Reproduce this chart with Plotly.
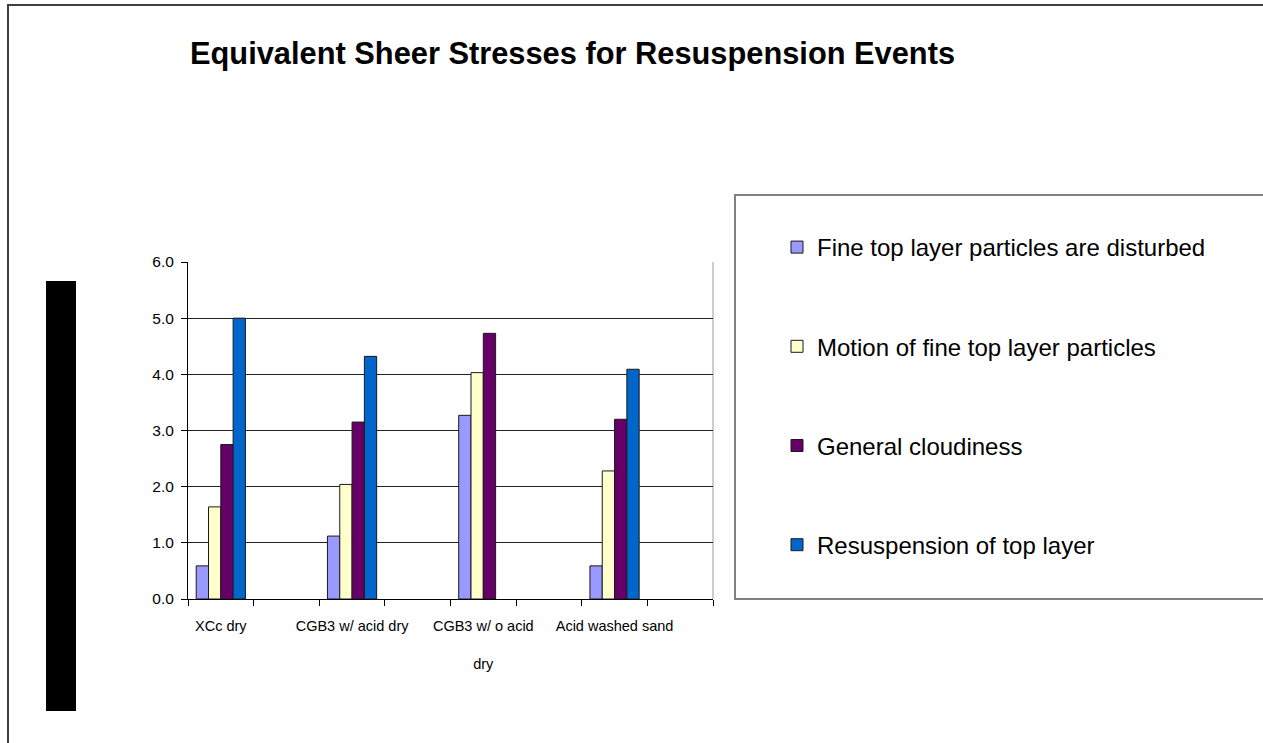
import plotly.graph_objects as go

# Eight category slots on the axis; only every other one is labelled and holds data
categories = [
    "XCc dry", " ",
    "CGB3 w/ acid dry", "  ",
    "CGB3 w/ o acid<br><br>dry", "   ",
    "Acid washed sand", "    ",
]

series_names = [
    "Fine top layer particles are disturbed",
    "Motion of fine top layer particles",
    "General cloudiness",
    "Resuspension of top layer",
]

fine_disturbed = [0.59, None, 1.12, None, 3.27, None, 0.59, None]
fine_motion = [1.64, None, 2.04, None, 4.03, None, 2.28, None]
cloudiness = [2.75, None, 3.15, None, 4.73, None, 3.20, None]
resuspension = [5.00, None, 4.32, None, None, None, 4.09, None]

series_values = [fine_disturbed, fine_motion, cloudiness, resuspension]
series_colors = ["#9999FF", "#FFFFCC", "#660066", "#0066CC"]

W, H = 1263, 743
PLOT_L, PLOT_R, PLOT_T, PLOT_B = 188, 713, 262, 599
FONT = "Liberation Sans, Arial, sans-serif"

fig = go.Figure()
for i, (name, vals, col) in enumerate(zip(series_names, series_values, series_colors)):
    fig.add_trace(go.Bar(
        x=categories, y=vals, name=name,
        marker=dict(color=col, line=dict(color="#1a1a1a", width=1)),
        legendgroup=f"g{i}",
    ))

pw = PLOT_R - PLOT_L
ph = PLOT_B - PLOT_T

def px_x(x):
    return (x - PLOT_L) / pw

def px_y(y):
    return (PLOT_B - y) / ph

shapes = [
    # outer chart frame
    dict(type="rect", xref="paper", yref="paper",
         x0=px_x(8), x1=px_x(1300), y0=px_y(780), y1=px_y(5),
         line=dict(color="#404040", width=2), layer="below"),
    # legend frame
    dict(type="rect", xref="paper", yref="paper",
         x0=px_x(735), x1=px_x(1300), y0=px_y(599), y1=px_y(195),
         line=dict(color="#808080", width=2), layer="below"),
    # right edge of the plot area
    dict(type="line", xref="paper", yref="paper",
         x0=1, x1=1, y0=0, y1=1,
         line=dict(color="#9a9a9a", width=1), layer="below"),
    # black side bar
    dict(type="rect", xref="paper", yref="paper",
         x0=px_x(46), x1=px_x(76), y0=px_y(711), y1=px_y(281),
         fillcolor="black", line=dict(width=0)),
]

fig.update_layout(
    width=W, height=H,
    margin=dict(l=PLOT_L, r=W - PLOT_R, t=PLOT_T, b=H - PLOT_B, pad=0),
    paper_bgcolor="white", plot_bgcolor="white",
    font=dict(family=FONT, color="black"),
    title=dict(
        text="<b>Equivalent Sheer Stresses for Resuspension Events</b>",
        font=dict(size=30.8, family=FONT, color="black"),
        xref="paper", x=px_x(190), xanchor="left",
        yref="container", y=1 - 53 / H, yanchor="middle",
    ),
    barmode="group", bargap=0.25, bargroupgap=0,
    xaxis=dict(
        type="category", tickson="boundaries", tickangle=0,
        ticks="outside", ticklen=6, tickcolor="black", tickwidth=1,
        showline=True, linecolor="black", linewidth=1,
        showgrid=False, tickfont=dict(size=14.5, family=FONT),
        ticklabelstandoff=14, fixedrange=True,
    ),
    yaxis=dict(
        range=[0, 6], dtick=1, tickformat=".1f",
        ticks="outside", ticklen=6, tickcolor="black", tickwidth=1,
        showline=True, linecolor="black", linewidth=1,
        showgrid=True, gridcolor="#222222", gridwidth=1,
        zeroline=False, tickfont=dict(size=15.5, family=FONT),
        ticklabelstandoff=4, fixedrange=True,
    ),
    legend=dict(
        x=px_x(777), xanchor="left",
        y=px_y(225), yanchor="top",
        traceorder="grouped", tracegroupgap=65,
        font=dict(size=24, family=FONT, color="black"),
        bgcolor="rgba(0,0,0,0)", borderwidth=0,
        itemclick=False, itemdoubleclick=False,
    ),
    shapes=shapes,
)

fig.write_html("out.html")
